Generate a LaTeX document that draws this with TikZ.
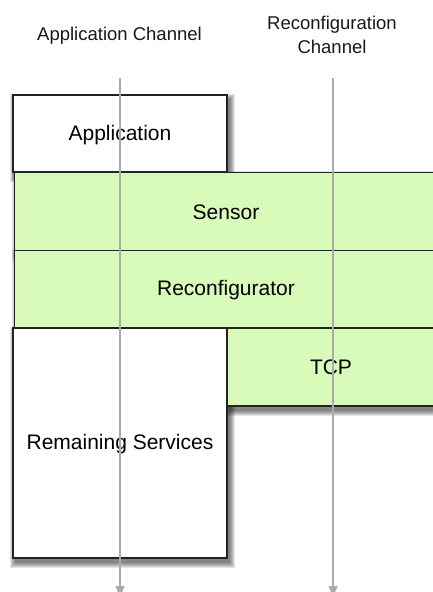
\documentclass[tikz,border=0pt]{standalone}
\usepackage{fontspec}
\setmainfont{Liberation Sans}
\usetikzlibrary{arrows.meta}
\pgfdeclarelayer{background}
\pgfdeclarelayer{canvas}
\pgfsetlayers{canvas,background,main}
\definecolor{boxgreen}{HTML}{D9FBB9}
\definecolor{chanline}{HTML}{ABABAB}
\definecolor{boxedge}{HTML}{222222}
\tikzset{
  layerbox/.style={draw=boxedge, line width=1.3pt, inner sep=0pt},
  whitebox/.style={layerbox, fill=white},
  greenbox/.style={layerbox, fill=boxgreen},
  boxtext/.style={font=\fontsize{21}{25}\selectfont, text=black, inner sep=0pt},
  chanlabel/.style={font=\fontsize{18.5}{24}\selectfont, align=center, text=black!90},
  channel/.style={draw=chanline, line width=1.2pt,
    -{Triangle[width=9pt,length=11pt]}},
  shadelayer/.style={fill=black, fill opacity=0.1, draw=none}
}
\newcommand\castshadow[1]{%
  \foreach \r in {0,1,2,3,4,5}{%
    \path[shadelayer] ([shift={(2.5-\r,-4.5-\r)}]#1.south west)
      rectangle ([shift={(2.5+\r,-4.5+\r)}]#1.north east);
  }}
\begin{document}
\begin{tikzpicture}[x=1pt,y=1pt]
\useasboundingbox (0,0) rectangle (432,-592);
\begin{pgfonlayer}{canvas}
\fill[white] (0,0) rectangle (432,-592);
\end{pgfonlayer}
% boxes
\node[whitebox, minimum width=214pt, minimum height=77pt] (app) at (120,-133.5) {};
\node[boxtext] (apptxt) at (120,-135) {Application};
\node[greenbox, minimum width=466pt, minimum height=78pt, anchor=west] (sensor) at (14,-211.5) {};
\node[boxtext] (sensortxt) at (226,-212.5) {Sensor};
\node[greenbox, minimum width=466pt, minimum height=78pt, anchor=west] (reconf) at (14,-289.5) {};
\node[boxtext] (reconftxt) at (226,-290.5) {Reconfigurator};
\node[whitebox, minimum width=214pt, minimum height=230pt] (remain) at (120,-443) {};
\node[boxtext] (remaintxt) at (120,-444) {Remaining Services};
\node[greenbox, minimum width=253pt, minimum height=78pt, anchor=west] (tcp) at (227,-367) {};
\node[boxtext] (tcptxt) at (331,-367) {TCP};
\begin{pgfonlayer}{background}
  \castshadow{app}
  \castshadow{sensor}
  \castshadow{reconf}
  \castshadow{remain}
  \castshadow{tcp}
\end{pgfonlayer}
% channel labels
\node[chanlabel] (lapp) at (119.5,-36) {Application Channel};
\node[chanlabel] (lrec) at (332,-35) {Reconfiguration\\Channel};
% channels
\coordinate (a1) at (120,-78);
\coordinate (a2) at (120,-597);
\coordinate (r1) at (333,-78);
\coordinate (r2) at (333,-597);
\draw[channel] (a1) -- (a2);
\draw[channel] (r1) -- (r2);
\end{tikzpicture}
\end{document}
